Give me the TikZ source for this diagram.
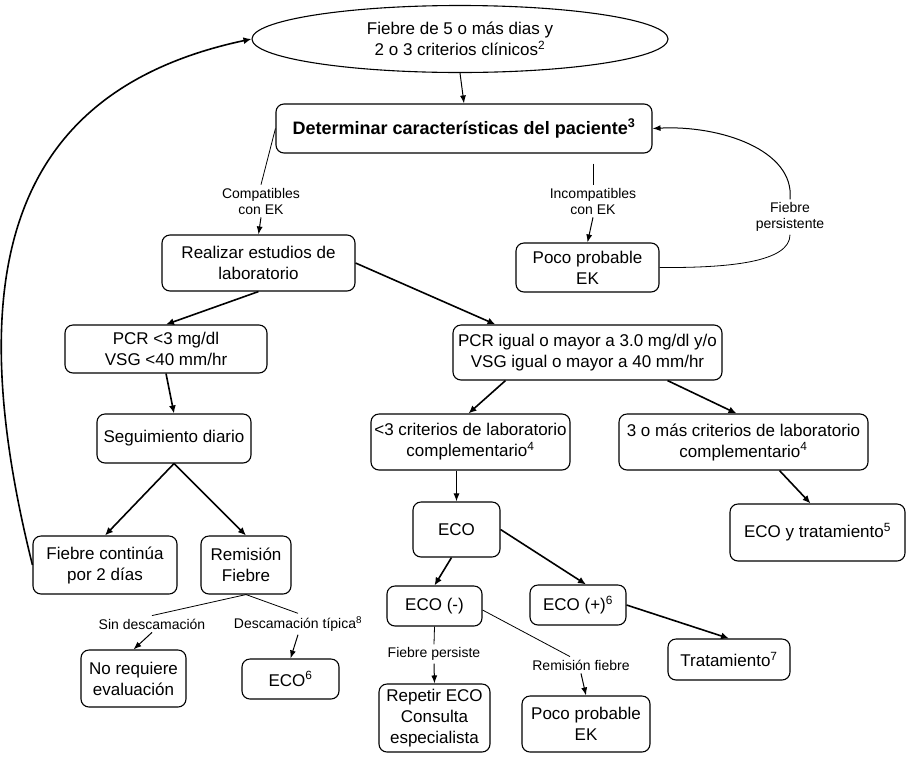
\documentclass[tikz,border=0pt]{standalone}
\usepackage{fontspec}
\setmainfont{Liberation Sans}
\usetikzlibrary{arrows.meta,shapes.geometric}

\tikzstyle{box}=[draw,rounded corners=8pt,align=center,inner sep=0pt,line width=1.1pt,font=\fontsize{17}{21}\selectfont]
\tikzstyle{tag}=[align=center,inner sep=3pt,font=\fontsize{14}{16}\selectfont]
\tikzstyle{edge}=[draw,line width=1.6pt,-{Latex[length=8pt,width=7pt]}]
\tikzstyle{thinedge}=[draw,line width=1pt,-{Latex[length=8pt,width=6pt]}]
\tikzstyle{link}=[draw,line width=0.8pt]

\begin{document}
\begin{tikzpicture}[x=1pt,y=-1pt]
	\useasboundingbox (0,0) rectangle (907,756);
	% top of the chart
	\node[draw,ellipse,line width=1.1pt,minimum width=416pt,minimum height=67pt,inner sep=0pt,align=center,font=\fontsize{17}{21}\selectfont] (fiebre) at (460,39) {Fiebre de 5 o más dias y\\2 o 3 criterios clínicos\textsuperscript{2}};
	\node[box,minimum width=376pt,minimum height=49pt,font=\fontsize{18}{21}\selectfont\bfseries] (det) at (464,128.5) {Determinar características del paciente\textsuperscript{3}};
	\node[tag] (compat) at (261,201) {Compatibles\\con EK};
	\node[tag] (incompat) at (593,201) {Incompatibles\\con EK};
	\node[tag] (fpers) at (790,217) {Fiebre\\persistente};
	\node[box,minimum width=193pt,minimum height=56pt] (realizar) at (258.5,263) {Realizar estudios de\\laboratorio};
	\node[box,minimum width=143pt,minimum height=49pt] (poco1) at (587.5,267.5) {Poco probable\\EK};
	% laboratory results
	\node[box,minimum width=202pt,minimum height=48pt] (pcrlow) at (166,349) {PCR <3 mg/dl\\VSG <40 mm/hr};
	\node[box,minimum width=269pt,minimum height=55pt] (pcrhigh) at (587.5,352.5) {PCR igual o mayor a 3.0 mg/dl y/o\\VSG igual o mayor a 40 mm/hr};
	\node[box,minimum width=154pt,minimum height=49pt] (seg) at (174,438.5) {Seguimiento diario};
	\node[box,minimum width=199pt,minimum height=56pt] (crit3) at (470.5,442) {<3 criterios de laboratorio\\complementario\textsuperscript{4}};
	\node[box,minimum width=249pt,minimum height=56pt] (critmas) at (743.5,442) {3 o más criterios de laboratorio\\complementario\textsuperscript{4}};
	\node[box,minimum width=87pt,minimum height=55pt] (eco) at (456.5,529.5) {ECO};
	\node[box,minimum width=175pt,minimum height=57pt] (ecotrat) at (817.5,532.5) {ECO y tratamiento\textsuperscript{5}};
	\node[box,minimum width=144pt,minimum height=58pt] (fcont) at (105,565) {Fiebre continúa\\por 2 días};
	\node[box,minimum width=90pt,minimum height=58pt] (remision) at (246,565) {Remisión\\Fiebre};
	\node[box,minimum width=95pt,minimum height=40pt] (econeg) at (434.5,606) {ECO (-)};
	\node[box,minimum width=96pt,minimum height=40pt] (ecopos) at (578,605) {ECO (+)\textsuperscript{6}};
	\node[box,minimum width=122pt,minimum height=41pt] (trat) at (729,659.5) {Tratamiento\textsuperscript{7}};
	% bottom row
	\node[tag] (sindesc) at (152,624) {Sin descamación};
	\node[tag] (desctip) at (298,624) {Descamación típica\textsuperscript{8}};
	\node[tag] (fpersiste) at (434,654) {Fiebre persiste};
	\node[tag] (remfieb) at (581,665) {Remisión fiebre};
	\node[box,minimum width=105pt,minimum height=57pt] (noreq) at (133.5,678.5) {No requiere\\evaluación};
	\node[box,minimum width=97pt,minimum height=40pt] (eco6) at (290.5,679) {ECO\textsuperscript{6}};
	\node[box,minimum width=111pt,minimum height=68pt] (repetir) at (434.5,718) {Repetir ECO\\Consulta\\especialista};
	\node[box,minimum width=128pt,minimum height=56pt] (poco2) at (586,724) {Poco probable\\EK};

	% plain lines to the labels
	\foreach \source/ \dest in {det.west/compat.north, remision.south/sindesc.north, remision.south/desctip.north, econeg.south/fpersiste.north}
		\path[link] (\source) -- (\dest);
	\path[link] ([yshift=-10pt]det.south -| incompat.north) -- (incompat.north);
	\path[link] ([yshift=-4pt]econeg.east) -- ([xshift=-11pt]remfieb.north);
	\path[link] (poco1.east) .. controls (730,268) and (790,262) .. (fpers.south);

	% arrows
	\foreach \source/ \dest in {fiebre.south/det.north, compat.south/realizar.north, incompat.south/poco1.north, sindesc.south/noreq.north, desctip.south/eco6.north, fpersiste.south/repetir.north, remfieb.south/poco2.north}
		\path[thinedge] (\source) -- (\dest);
	\path[thinedge] (eco.north |- crit3.south) -- (eco.north);
	\path[thinedge] (fpers.north) .. controls (795,150) and (720,125) .. (det.east);

	\foreach \source/ \dest in {realizar.south/pcrlow.north, pcrlow.south/seg.north, seg.south/fcont.north, seg.south/remision.north, ecopos.east/trat.north}
		\path[edge] (\source) -- (\dest);
	\path[edge] (realizar.east) -- ([xshift=-92pt]pcrhigh.north);
	\path[edge] ([xshift=-82pt]pcrhigh.south) -- ([xshift=-2pt]crit3.north);
	\path[edge] ([xshift=80pt]pcrhigh.south) -- ([xshift=-7pt]critmas.north);
	\path[edge] ([xshift=36pt]critmas.south) -- ([xshift=-7pt]ecotrat.north);
	\path[edge] ([xshift=-5pt]eco.south) -- (econeg.north);
	\path[edge] (eco.east) -- ([xshift=8pt]ecopos.north);
	% back to the start
	\path[edge] (fcont.west) .. controls (-40,275) and (7,91) .. (fiebre.west);
\end{tikzpicture}
\end{document}
